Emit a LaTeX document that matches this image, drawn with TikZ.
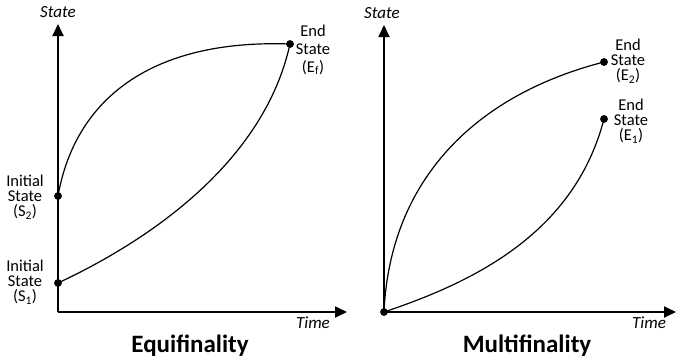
\documentclass[tikz,border=0pt]{standalone}
\usepackage{fontspec}
\setmainfont{Carlito}
\usetikzlibrary{arrows.meta}
\begin{document}
\begin{tikzpicture}[x=1pt,y=-1pt,
  axis/.style={line width=1.8pt,-{Triangle[length=12pt,width=11pt]}},
  curve/.style={line width=1.2pt,line join=round},
  dot/.style={circle,fill=black,inner sep=0pt,minimum size=7.5pt},
  lbl/.style={font=\fontsize{16.5}{15.2}\selectfont,align=center,inner sep=0pt},
  axlbl/.style={font=\fontsize{17}{17}\selectfont\itshape,inner sep=0pt},
  title/.style={font=\fontsize{25}{28}\selectfont\bfseries,inner sep=0pt}]
\useasboundingbox (0,0) rectangle (677,359);
% ---------- left panel ----------
\coordinate (lo) at (58,312);
\coordinate (ly) at (58,24);
\coordinate (lx) at (347,312);
\draw[axis] (lo) -- (ly);
\draw[axis] (lo) -- (lx);
\node[dot] (s1) at (58,283) {};
\node[dot] (s2) at (58,196) {};
\node[dot] (ef) at (290,44) {};
\draw[curve] (s2.center) .. controls (75,100) and (150,39) .. (ef.center);
\draw[curve] (s1.center) .. controls (150,240) and (264,162) .. (ef.center);
\node[dot] at (s1) {};
\node[dot] at (s2) {};
\node[dot] at (ef) {};
\node[lbl] (s2l) at (25,197) {Initial\\State\\(S\textsubscript{2})};
\node[lbl] (s1l) at (25,282) {Initial\\State\\(S\textsubscript{1})};
\node[lbl,font=\fontsize{16.5}{17.8}\selectfont] (efl) at (313,50) {End\\State\\(E\textsubscript{f})};
\node[axlbl] (lys) at (58,12) {State};
\node[axlbl] (lxt) at (313,323) {Time};
\node[title] (t1) at (190,346) {Equifinality};
% ---------- right panel ----------
\coordinate (ro) at (384,312);
\coordinate (ry) at (384,25);
\coordinate (rx) at (676,312);
\draw[axis] (ro) -- (ry);
\draw[axis] (ro) -- (rx);
\node[dot] (o) at (384,312) {};
\node[dot] (e2) at (604,62) {};
\node[dot] (e1) at (604,119) {};
\draw[curve] (o.center) .. controls (390,180) and (475,95) .. (e2.center);
\draw[curve] (o.center) .. controls (480,280) and (575,230) .. (e1.center);
\node[dot] at (o) {};
\node[dot] at (e2) {};
\node[dot] at (e1) {};
\node[lbl] (e2l) at (628,61) {End\\State\\(E\textsubscript{2})};
\node[lbl] (e1l) at (631,121) {End\\State\\(E\textsubscript{1})};
\node[axlbl] (rys) at (382,13) {State};
\node[axlbl] (rxt) at (649,323) {Time};
\node[title] (t2) at (527,346) {Multifinality};
\end{tikzpicture}
\end{document}
